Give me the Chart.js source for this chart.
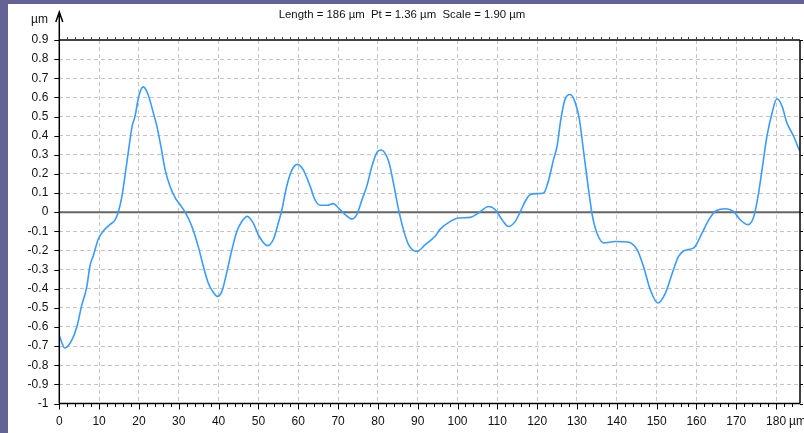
<!DOCTYPE html>
<html>
<head>
<meta charset="utf-8">
<script src="https://cdn.jsdelivr.net/npm/chart.js@4"></script>
<style>
html, body { margin: 0; padding: 0; background: #636396; width: 804px; height: 433px; overflow: hidden; }
#wrap { position: absolute; left: 8px; top: 4px; width: 796px; height: 429px; background: #fff; }
</style>
</head>
<body>
<div id="wrap"><canvas id="profile" width="796" height="429"></canvas></div>
<script>
// profile: position (µm) / height (µm)
const posX = [0, 1.4, 3.1, 4.4, 5.6, 6.9, 7.7, 8.5, 9.8, 11.0, 12.7, 14.0, 14.8, 15.7, 16.5, 17.3, 18.3, 19.0, 20.0, 21.1,
  22.2, 23.6, 24.5, 25.5, 26.6, 27.8, 29.1, 30.3, 31.6, 33.3, 34.9, 36.2, 37.4, 38.7, 39.7, 40.8, 42.0, 43.3, 44.6, 45.8,
  47.2, 48.7, 50.2, 52.3, 53.8, 55.0, 55.9, 57.1, 58.4, 59.8, 61.3, 63.0, 64.2, 65.5, 67.2, 68.8, 70.1, 71.8, 73.5, 74.7,
  76.0, 77.2, 78.5, 79.7, 80.8, 82.7, 83.9, 85.2, 86.4, 87.7, 89.8, 91.9, 93.1, 94.4, 95.6, 98.2, 100.3, 103.2, 105.3, 107.8,
  109.5, 111.2, 112.8, 114.5, 115.8, 117.0, 118.3, 120.0, 121.6, 122.9, 124.1, 125.0, 125.9, 127.0, 128.3, 129.6, 130.6, 131.7, 132.9, 133.9,
  135.0, 136.7, 139.6, 142.8, 145.1, 146.7, 148.4, 150.3, 152.2, 153.9, 155.5, 157.0, 159.3, 161.4, 163.1, 164.7, 167.3, 169.3, 171.0, 172.9,
  174.4, 175.6, 176.7, 177.7, 179.0, 180.2, 181.5, 182.7, 184.4, 185.6, 186];
const heightY = [-0.645, -0.71, -0.67, -0.60, -0.49, -0.39, -0.28, -0.23, -0.14, -0.10, -0.065, -0.04, 0.0, 0.08, 0.19, 0.31, 0.45, 0.50, 0.61, 0.655,
  0.62, 0.52, 0.45, 0.345, 0.22, 0.135, 0.075, 0.04, 0.0, -0.075, -0.18, -0.285, -0.37, -0.42, -0.44, -0.415, -0.32, -0.20, -0.10, -0.05,
  -0.022, -0.057, -0.127, -0.175, -0.14, -0.057, 0.013, 0.135, 0.22, 0.25, 0.22, 0.135, 0.065, 0.036, 0.036, 0.045, 0.022, -0.013, -0.036, -0.013,
  0.065, 0.135, 0.24, 0.31, 0.325, 0.266, 0.153, 0.013, -0.09, -0.17, -0.205, -0.17, -0.15, -0.125, -0.09, -0.048, -0.03, -0.027, -0.004, 0.03,
  0.013, -0.04, -0.075, -0.048, 0.004, 0.057, 0.092, 0.097, 0.10, 0.17, 0.275, 0.345, 0.48, 0.59, 0.615, 0.57, 0.485, 0.31, 0.118, -0.022,
  -0.109, -0.161, -0.153, -0.156, -0.196, -0.284, -0.405, -0.475, -0.423, -0.32, -0.231, -0.2, -0.187, -0.109, -0.04, 0.004, 0.018, 0.004, -0.04, -0.065,
  -0.022, 0.10, 0.257, 0.397, 0.52, 0.593, 0.554, 0.467, 0.397, 0.336, 0.32];

const xTickValues = [0, 10, 20, 30, 40, 50, 60, 70, 80, 90, 100, 110, 120, 130, 140, 150, 160, 170, 180];
const yTickValues = [0.9, 0.8, 0.7, 0.6, 0.5, 0.4, 0.3, 0.2, 0.1, 0, -0.1, -0.2, -0.3, -0.4, -0.5, -0.6, -0.7, -0.8, -0.9, -1];
const titleText = 'Length = 186 µm  Pt = 1.36 µm  Scale = 1.90 µm';
const unitText = 'µm';

const FAMILY = '"Liberation Sans", Arial, sans-serif';

const frame = {
  id: 'frame',
  beforeDatasetsDraw(chart) {
    const { ctx, chartArea: a, scales: { y } } = chart;
    const y0 = y.getPixelForValue(0);
    ctx.save();
    ctx.strokeStyle = '#666';
    ctx.lineWidth = 2;
    ctx.beginPath();
    ctx.moveTo(a.left, y0);
    ctx.lineTo(a.right, y0);
    ctx.stroke();
    ctx.restore();
  },
  afterDraw(chart) {
    const { ctx, chartArea: a, scales: { x, y } } = chart;
    ctx.save();

    // top line with small ticks
    ctx.strokeStyle = '#444';
    ctx.lineWidth = 2;
    ctx.beginPath();
    ctx.moveTo(a.left, a.top);
    ctx.lineTo(a.right, a.top);
    ctx.stroke();
    ctx.lineWidth = 1;
    ctx.beginPath();
    for (let v = 2; v < 186; v += 2) {
      const px = Math.round(x.getPixelForValue(v)) + 0.5;
      ctx.moveTo(px, a.top);
      ctx.lineTo(px, a.top - 3);
    }
    ctx.stroke();

    // bottom axis
    ctx.strokeStyle = '#000';
    ctx.lineWidth = 1.5;
    ctx.beginPath();
    ctx.moveTo(a.left, a.bottom);
    ctx.lineTo(a.right, a.bottom);
    ctx.stroke();
    ctx.lineWidth = 1;
    ctx.beginPath();
    for (let v = 0; v < 186; v += 2) {
      const px = Math.round(x.getPixelForValue(v)) + 0.5;
      ctx.moveTo(px, a.bottom);
      ctx.lineTo(px, a.bottom + (v % 10 === 0 ? 6 : 3.5));
    }
    ctx.stroke();

    // left axis with arrow
    ctx.lineWidth = 1.5;
    ctx.beginPath();
    ctx.moveTo(a.left, a.bottom);
    ctx.lineTo(a.left, 8);
    ctx.moveTo(a.left - 3.5, 18);
    ctx.lineTo(a.left, 8);
    ctx.lineTo(a.left + 3.5, 18);
    ctx.stroke();
    ctx.lineWidth = 1;
    ctx.beginPath();
    yTickValues.forEach(v => {
      const py = Math.round(y.getPixelForValue(v)) + 0.5;
      ctx.moveTo(a.left - 5, py);
      ctx.lineTo(a.left, py);
    });
    ctx.stroke();

    // right axis
    ctx.lineWidth = 1.5;
    ctx.beginPath();
    ctx.moveTo(a.right, a.top);
    ctx.lineTo(a.right, a.bottom);
    ctx.stroke();
    ctx.lineWidth = 1;
    ctx.beginPath();
    yTickValues.forEach(v => {
      const py = Math.round(y.getPixelForValue(v)) + 0.5;
      ctx.moveTo(a.right, py);
      ctx.lineTo(a.right + 3, py);
    });
    ctx.stroke();

    // texts
    ctx.fillStyle = '#111';
    ctx.textBaseline = 'middle';
    ctx.textAlign = 'center';
    ctx.font = '11.4px ' + FAMILY;
    ctx.fillText(titleText, 394, 11);
    ctx.font = '12px ' + FAMILY;
    ctx.textAlign = 'right';
    ctx.fillText(unitText, 40, 16);
    ctx.textAlign = 'left';
    ctx.fillText(unitText, 781, 418);
    ctx.restore();
  }
};

new Chart(document.getElementById('profile'), {
  type: 'line',
  data: {
    datasets: [{
      data: posX.map((v, i) => ({ x: v, y: heightY[i] })),
      borderColor: '#3a9bff',
      borderWidth: 1.6,
      pointRadius: 0,
      fill: false,
      cubicInterpolationMode: 'monotone'
    }]
  },
  options: {
    responsive: false,
    animation: false,
    layout: { padding: { left: 0, top: 36, right: 4, bottom: 0 } },
    plugins: { legend: { display: false }, tooltip: { enabled: false } },
    scales: {
      x: {
        type: 'linear',
        min: 0,
        max: 186,
        afterBuildTicks: s => { s.ticks = xTickValues.map(v => ({ value: v })); },
        afterFit: s => { s.height = 29.5; },
        grid: { color: '#c4c4c4', lineWidth: 1, drawTicks: false },
        border: { display: false, dash: [4, 3] },
        ticks: { padding: 11, color: '#111', font: { family: FAMILY, size: 12 }, maxRotation: 0, autoSkip: false }
      },
      y: {
        min: -1,
        max: 0.9,
        afterBuildTicks: s => { s.ticks = yTickValues.map(v => ({ value: v })); },
        afterFit: s => { s.width = 51.3; },
        grid: { color: '#c4c4c4', lineWidth: 1, drawTicks: false },
        border: { display: false, dash: [4, 3] },
        ticks: {
          padding: 11, color: '#111', autoSkip: false,
          font: { family: FAMILY, size: 12 },
          callback: v => String(Number(v.toFixed(1)))
        }
      }
    }
  },
  plugins: [frame]
});
</script>
</body>
</html>
